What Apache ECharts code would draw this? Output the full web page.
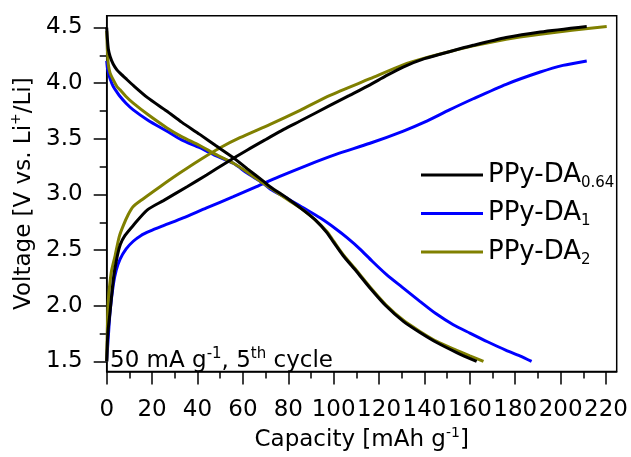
<!DOCTYPE html>
<html><head><meta charset="utf-8">
<script src="https://cdn.jsdelivr.net/npm/echarts@6/dist/echarts.min.js"></script>
<style>html,body{margin:0;padding:0;background:#fff}#c{width:631px;height:457px}</style>
</head><body><div id="c"></div>
<script>
// ---- data (capacity mAh/g, voltage V) ----
const capTicks = [0,20,40,60,80,100,120,140,160,180,200,220];
const capMinorTicks = [10,30,50,70,90,110,130,150,170,190,210];
const voltTicks = [1.5,2.0,2.5,3.0,3.5,4.0,4.5];
const voltMinorTicks = [1.75,2.25,2.75,3.25,3.75,4.25];
const seriesNames = ['PPy-DA0.64','PPy-DA1','PPy-DA2'];
const seriesColors = ['#000000','#0000ff','#808000'];

const chargeDA064 = [[0,1.50],[0.5,1.75],[1.5,1.95],[3,2.25],[4.4,2.42],[6,2.55],[8,2.63],[11.6,2.72],[17.8,2.86],[25,2.945],[35.4,3.07],[44,3.175],[53,3.29],[62,3.40],[70.6,3.50],[78,3.585],[85.2,3.66],[98.4,3.80],[107,3.89],[116,3.985],[123,4.065],[130.6,4.145],[140,4.22],[151.3,4.285],[161.5,4.34],[176,4.41],[191,4.46],[211.5,4.51]];
const dischargeDA064 = [[0,4.5],[0.3,4.4],[0.7,4.31],[1.5,4.24],[2.9,4.17],[4.5,4.12],[5.9,4.09],[8.5,4.04],[11.7,3.98],[18,3.87],[26.4,3.75],[33,3.65],[41,3.54],[48,3.44],[55.8,3.33],[62,3.23],[69,3.12],[72,3.07],[80,2.96],[86.6,2.86],[92,2.77],[96.9,2.66],[100,2.57],[104.2,2.45],[110,2.31],[116,2.16],[123,2.0],[130.7,1.86],[138,1.76],[145.4,1.67],[154.2,1.58],[163,1.5]];

const chargeDA1 = [[0,1.5],[0.3,1.6],[0.7,1.72],[1.5,1.95],[2.9,2.19],[4.2,2.32],[5.9,2.42],[8.5,2.51],[11.7,2.58],[15,2.63],[19,2.67],[25,2.72],[33.7,2.79],[44,2.88],[55.8,2.98],[66,3.07],[76,3.16],[88,3.26],[101,3.36],[116,3.46],[130.7,3.57],[140,3.65],[151,3.76],[161.5,3.86],[176,3.99],[191,4.1],[201,4.16],[211.5,4.2]];
const dischargeDA1 = [[0,4.2],[0.3,4.14],[0.7,4.1],[1.5,4.04],[2.9,3.97],[4.5,3.92],[5.9,3.88],[8.5,3.82],[11.7,3.76],[18,3.67],[26.4,3.57],[33,3.49],[41,3.42],[48,3.35],[55.8,3.28],[62,3.19],[69,3.1],[72,3.05],[80,2.96],[86.6,2.88],[94,2.79],[101,2.69],[106,2.61],[111.6,2.51],[117,2.4],[123.3,2.28],[130,2.17],[138,2.04],[145,1.93],[152.7,1.83],[160,1.755],[168,1.675],[176,1.6],[182,1.55],[187.2,1.5]];

const chargeDA2 = [[0,1.5],[0.3,1.8],[0.7,2.04],[2,2.3],[3.7,2.45],[5.5,2.62],[7.3,2.72],[9.5,2.82],[11.6,2.89],[16,2.96],[23.5,3.07],[32,3.19],[41,3.31],[50,3.42],[58.7,3.51],[72,3.63],[85.2,3.756],[98.4,3.89],[116,4.04],[130.6,4.165],[140,4.225],[151.3,4.285],[161.5,4.335],[176,4.395],[191,4.44],[205,4.475],[220.3,4.51]];
const dischargeDA2 = [[0,4.47],[0.3,4.3],[0.7,4.17],[1.5,4.09],[2.9,4.03],[4.5,3.97],[5.9,3.94],[8.5,3.88],[11.7,3.82],[18,3.72],[26.4,3.6],[33,3.52],[41,3.44],[48,3.36],[55.8,3.28],[62,3.2],[69,3.1],[72,3.06],[80,2.95],[86.6,2.86],[92,2.77],[96.9,2.67],[100,2.58],[104.2,2.46],[110,2.32],[116,2.17],[123,2.01],[130.7,1.87],[138,1.77],[145.4,1.68],[154.2,1.6],[160,1.55],[166,1.5]];

const F = 'DejaVu Sans';
const chart = echarts.init(document.getElementById('c'), null, {renderer:'canvas'});

function mkSeries(name, color, data){
  return {type:'line', name:name, data:data, showSymbol:false, symbol:'none', smooth:0.25,
    lineStyle:{color:color, width:3}, itemStyle:{color:color}, z:2};
}

const xBase = {type:'value', min:0, max:224.7, gridIndex:0, splitLine:{show:false}};
const yBase = {type:'value', min:1.409, max:4.606, gridIndex:0, splitLine:{show:false}};

chart.setOption({
  animation:false,
  backgroundColor:'#fff',
  grid:{left:106.7, top:15.7, right:14.3, bottom:79, show:true, borderColor:'#000', borderWidth:1.5, backgroundColor:'transparent'},
  xAxis:[
    Object.assign({}, xBase, {
      position:'bottom',
      name:'{n|Capacity [mAh g}{s|-1}{n|]}', nameLocation:'middle', nameGap:50,
      nameTextStyle:{rich:{n:{fontSize:23, fontFamily:F, color:'#000', lineHeight:28}, s:{fontSize:14, fontFamily:F, color:'#000', verticalAlign:'top', lineHeight:12}}},
      axisLine:{show:true, onZero:false, lineStyle:{color:'#000', width:1.5}},
      axisTick:{show:true, inside:false, length:13, lineStyle:{color:'#000', width:1.5}, customValues:capTicks},
      axisLabel:{show:true, margin:27, fontSize:23, fontFamily:F, color:'#000', customValues:capTicks, formatter:v=>String(v)}
    }),
    Object.assign({}, xBase, {
      position:'bottom',
      axisLine:{show:false},
      axisTick:{show:true, inside:false, length:7, lineStyle:{color:'#000', width:1.5}, customValues:capMinorTicks},
      axisLabel:{show:false}
    })
  ],
  yAxis:[
    Object.assign({}, yBase, {
      position:'left',
      name:'{n|Voltage [V vs. Li}{s|+}{n|/Li]}', nameLocation:'middle', nameGap:68, nameRotate:90,
      nameTextStyle:{rich:{n:{fontSize:23, fontFamily:F, color:'#000', lineHeight:28}, s:{fontSize:14, fontFamily:F, color:'#000', verticalAlign:'top', lineHeight:12}}},
      axisLine:{show:true, onZero:false, lineStyle:{color:'#000', width:1.5}},
      axisTick:{show:true, inside:false, length:13, lineStyle:{color:'#000', width:1.5}, customValues:voltTicks},
      axisLabel:{show:true, margin:24, fontSize:23, fontFamily:F, color:'#000', customValues:voltTicks, formatter:v=>Number(v).toFixed(1)}
    }),
    Object.assign({}, yBase, {
      position:'left',
      axisLine:{show:false},
      axisTick:{show:true, inside:false, length:7, lineStyle:{color:'#000', width:1.5}, customValues:voltMinorTicks},
      axisLabel:{show:false}
    })
  ],
  legend:{
    data:seriesNames, orient:'vertical', left:416, top:157, itemGap:10,
    icon:'rect', itemWidth:62, itemHeight:3,
    formatter:name=>'{m|PPy-DA}{s|'+name.slice(6)+'}',
    textStyle:{rich:{m:{fontSize:26, fontFamily:F, color:'#000', lineHeight:31}, s:{fontSize:15, fontFamily:F, color:'#000', verticalAlign:'bottom', lineHeight:13}}},
    selectedMode:false
  },
  graphic:[{
    type:'text', left:110, top:347, z:10,
    style:{text:'{n|50 mA g}{s|-1}{n|, 5}{s|th}{n| cycle}', fill:'#000',
      rich:{n:{fontSize:23, fontFamily:F, fill:'#000', lineHeight:28}, s:{fontSize:15, fontFamily:F, fill:'#000', verticalAlign:'top', lineHeight:12}}}
  }],
  series:[
    mkSeries(seriesNames[1], seriesColors[1], chargeDA1),
    mkSeries(seriesNames[1], seriesColors[1], dischargeDA1),
    mkSeries(seriesNames[2], seriesColors[2], chargeDA2),
    mkSeries(seriesNames[2], seriesColors[2], dischargeDA2),
    mkSeries(seriesNames[0], seriesColors[0], chargeDA064),
    mkSeries(seriesNames[0], seriesColors[0], dischargeDA064)
  ]
});
</script></body></html>
